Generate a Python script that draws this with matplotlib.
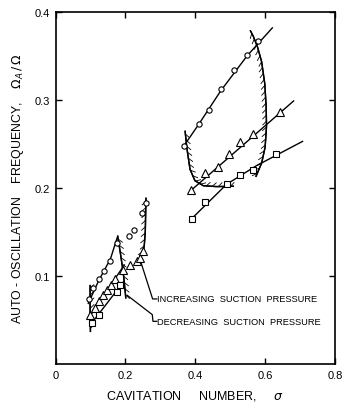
import matplotlib
matplotlib.use("Agg")
import matplotlib.pyplot as plt
import matplotlib.patheffects as pe

plt.rcParams['font.family'] = ['Liberation Sans', 'DejaVu Sans']
plt.rcParams['mathtext.fontset'] = 'dejavusans'

# ---------------- data ----------------
# upper group (higher cavitation numbers)
up_circ_x = [0.368, 0.410, 0.440, 0.473, 0.512, 0.549, 0.579]
up_circ_y = [0.247, 0.272, 0.288, 0.312, 0.334, 0.351, 0.367]
up_circ_line_x = [0.370, 0.410, 0.473, 0.549, 0.622]
up_circ_line_y = [0.249, 0.272, 0.310, 0.350, 0.382]

up_tri_x = [0.388, 0.428, 0.466, 0.498, 0.528, 0.566, 0.642]
up_tri_y = [0.198, 0.217, 0.224, 0.238, 0.252, 0.261, 0.286]
up_tri_line_x = [0.385, 0.683]
up_tri_line_y = [0.196, 0.299]

up_sq_x = [0.390, 0.428, 0.490, 0.528, 0.564, 0.631]
up_sq_y = [0.165, 0.184, 0.204, 0.2145, 0.2205, 0.238]
up_sq_line_x = [0.390, 0.490, 0.575, 0.709]
up_sq_line_y = [0.165, 0.204, 0.225, 0.253]

up_bnd_left_x = [0.371, 0.376, 0.385, 0.399, 0.423, 0.461, 0.509]
up_bnd_left_y = [0.264, 0.245, 0.221, 0.208, 0.2023, 0.2013, 0.2017]
up_bnd_right_x = [0.574, 0.590, 0.600, 0.604, 0.603, 0.599, 0.590, 0.578, 0.566, 0.558]
up_bnd_right_y = [0.213, 0.228, 0.246, 0.270, 0.292, 0.318, 0.343, 0.360, 0.372, 0.378]

# lower group, decreasing suction pressure
lo_circ_x = [0.097, 0.108, 0.124, 0.140, 0.157, 0.177]
lo_circ_y = [0.074, 0.086, 0.097, 0.106, 0.117, 0.137]
lo_circ_line_x = [0.093, 0.124, 0.157, 0.178]
lo_circ_line_y = [0.068, 0.095, 0.119, 0.145]

lo_tri_x = [0.099, 0.113, 0.124, 0.136, 0.147, 0.158, 0.170, 0.193]
lo_tri_y = [0.056, 0.064, 0.071, 0.078, 0.084, 0.090, 0.097, 0.107]
lo_tri_line_x = [0.094, 0.198]
lo_tri_line_y = [0.052, 0.113]

lo_sq_x = [0.105, 0.125, 0.175, 0.186]
lo_sq_y = [0.047, 0.056, 0.082, 0.090]
lo_sq_line_x = [0.103, 0.196]
lo_sq_line_y = [0.046, 0.094]

lo_bnd_peak_x = [0.178, 0.186, 0.193, 0.197, 0.200, 0.201]
lo_bnd_peak_y = [0.145, 0.125, 0.106, 0.092, 0.080, 0.075]
lo_bnd_left_x = [0.100, 0.099, 0.099]
lo_bnd_left_y = [0.037, 0.060, 0.089]

# lower group, increasing suction pressure
inc_circ_x = [0.209, 0.225, 0.247, 0.259]
inc_circ_y = [0.145, 0.152, 0.171, 0.183]
inc_tri_x = [0.213, 0.232, 0.242, 0.250]
inc_tri_y = [0.112, 0.117, 0.120, 0.128]
inc_bnd_x = [0.248, 0.254, 0.257, 0.258, 0.259]
inc_bnd_y = [0.124, 0.134, 0.150, 0.170, 0.188]

# annotation pointers
inc_ptr_x = [0.290, 0.278, 0.244]
inc_ptr_y = [0.0738, 0.0738, 0.116]
dec_ptr_x = [0.290, 0.279, 0.277, 0.205]
dec_ptr_y = [0.0484, 0.0484, 0.056, 0.078]

x_ticks = [0, 0.2, 0.4, 0.6, 0.8]
x_ticklabels = ['0', '0.2', '0.4', '0.6', '0.8']
y_ticks = [0.1, 0.2, 0.3, 0.4]
y_ticklabels = ['0.1', '0.2', '0.3', '0.4']

# ---------------- figure ----------------
fig = plt.figure(figsize=(3.52, 4.10), dpi=100)
ax = fig.add_axes([0.1577, 0.1098, 0.794, 0.8597])

lw = 1.0
def line(x, y):
    ax.plot(x, y, color='black', lw=lw, solid_capstyle='butt', zorder=2)

def hatched(x, y, angle):
    ax.plot(x, y, color='black', lw=lw, zorder=2,
            path_effects=[pe.withTickedStroke(spacing=4.2, angle=angle, length=0.9, linewidth=0.6),
                          pe.Normal()])

def marks(x, y, m, ms):
    ax.plot(x, y, linestyle='none', marker=m, ms=ms, mfc='white', mec='black',
            mew=0.8, zorder=3)

line(up_circ_line_x, up_circ_line_y)
line(up_tri_line_x, up_tri_line_y)
line(up_sq_line_x, up_sq_line_y)
hatched(up_bnd_left_x, up_bnd_left_y, 45)
hatched(up_bnd_right_x, up_bnd_right_y, 135)

line(lo_circ_line_x, lo_circ_line_y)
line(lo_tri_line_x, lo_tri_line_y)
line(lo_sq_line_x, lo_sq_line_y)
hatched(lo_bnd_peak_x, lo_bnd_peak_y, 45)
hatched(lo_bnd_left_x, lo_bnd_left_y, -45)
hatched(inc_bnd_x, inc_bnd_y, 135)

marks(up_circ_x, up_circ_y, 'o', 3.8)
marks(up_tri_x, up_tri_y, '^', 5.8)
marks(up_sq_x, up_sq_y, 's', 4.8)
marks(lo_circ_x, lo_circ_y, 'o', 3.8)
marks(lo_tri_x, lo_tri_y, '^', 5.8)
marks(lo_sq_x, lo_sq_y, 's', 4.8)
marks(inc_circ_x, inc_circ_y, 'o', 3.8)
marks(inc_tri_x, inc_tri_y, '^', 5.8)

ax.plot(inc_ptr_x, inc_ptr_y, color='black', lw=0.9, zorder=2)
ax.plot(dec_ptr_x, dec_ptr_y, color='black', lw=0.9, zorder=2)
ax.text(0.291, 0.0738, 'INCREASING  SUCTION  PRESSURE', fontsize=6.7,
        va='center', ha='left')
ax.text(0.291, 0.0484, 'DECREASING  SUCTION  PRESSURE', fontsize=6.7,
        va='center', ha='left')

ax.set_xlim(0, 0.8)
ax.set_ylim(0, 0.4)
ax.set_xticks(x_ticks)
ax.set_xticklabels(x_ticklabels)
ax.set_yticks(y_ticks)
ax.set_yticklabels(y_ticklabels)
ax.tick_params(direction='in', length=4, width=1.0, top=True, right=True,
               labelsize=8.0, pad=4)
for s in ax.spines.values():
    s.set_linewidth(1.2)

ax.set_xlabel('CAVITATION     NUMBER,     $\\sigma$', fontsize=9.0, labelpad=6)
ax.set_ylabel('AUTO - OSCILLATION    FREQUENCY,    $\\Omega_A\\,/\\,\\Omega$',
              fontsize=8.9, labelpad=6)

fig.savefig('out.png', dpi=100)
